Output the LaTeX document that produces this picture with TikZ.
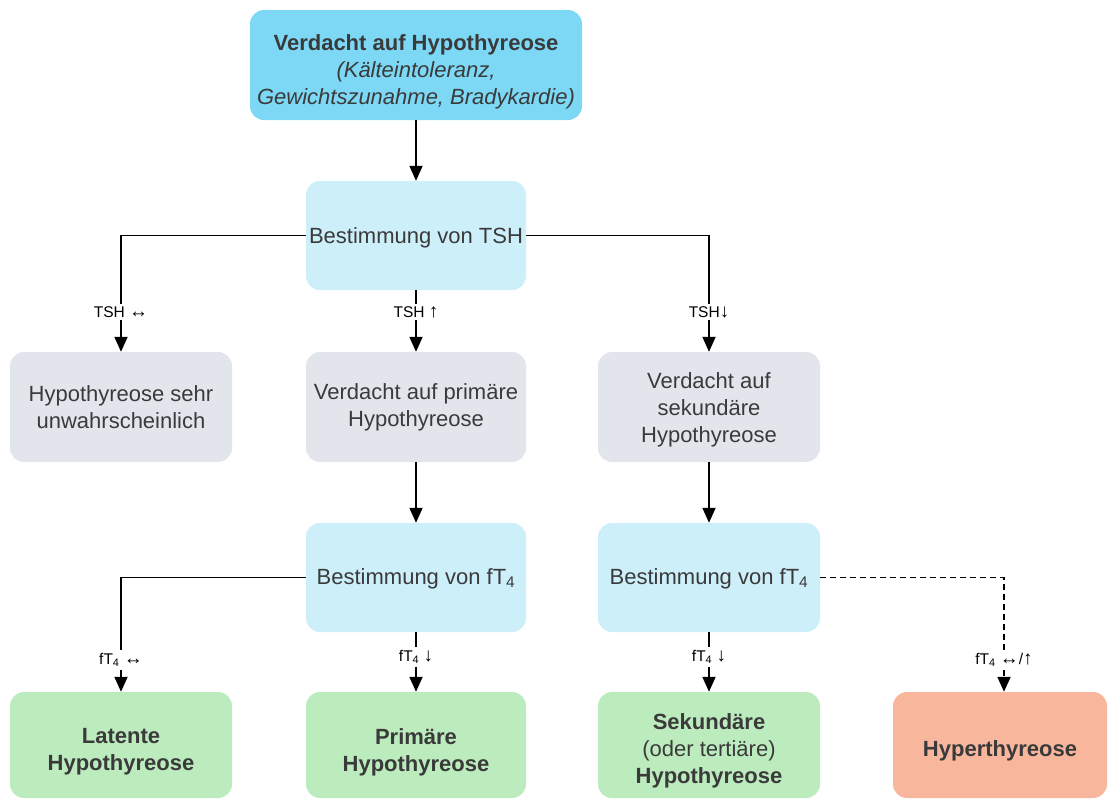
\documentclass[tikz,border=0pt]{standalone}
\usepackage{fontspec}
\setmainfont{Liberation Sans}
\usetikzlibrary{arrows.meta}
\definecolor{topblue}{HTML}{7DD8F5}
\definecolor{ltblue}{HTML}{CDEFFA}
\definecolor{grey}{HTML}{E2E6EC}
\definecolor{green}{HTML}{BCEBBE}
\definecolor{orange}{HTML}{F8B79C}
\definecolor{txt}{HTML}{3A3A3A}
\newcommand{\arw}[1]{{\fontsize{19}{19}\selectfont #1}}
\begin{document}
\begin{tikzpicture}[x=1pt,y=-1pt,
  box/.style={rounded corners=14pt, inner sep=0pt},
  bw/.style={minimum width=#1},
  bh/.style={minimum height=#1},
  tx/.style={align=center, text=txt, inner sep=0pt,
    font=\fontsize{22}{27}\selectfont},
  bx/.style={tx, font=\fontsize{22}{27}\selectfont\bfseries},
  lab/.style={font=\fontsize{15.5}{17}\selectfont, inner sep=2.5pt, text=black},
  con/.style={line width=1.8pt, draw=black},
  arr/.style={con, -{Triangle[length=15pt,width=13pt]}},
  dsh/.style={dash pattern=on 6pt off 4pt}
]
\useasboundingbox (0,0) rectangle (1108,798);

% top
\node[box, fill=topblue, bw=332pt, bh=110pt] (top) at (416,65) {};
\node[tx] (topt) at ([yshift=-7pt]top.center)
  {\textbf{Verdacht auf Hypothyreose}\\ \textit{(Kälteintoleranz,}\\ \textit{Gewichtszunahme, Bradykardie)}};
\node[box, fill=ltblue, bw=220pt, bh=109pt] (tsh) at (416,235.5) {};
\node[tx] (tsht) at ([yshift=-2pt]tsh.center) {Bestimmung von TSH};

% row 2
\node[box, fill=grey, bw=222pt, bh=110pt] (un) at (121,407) {};
\node[tx] (unt) at (un.center) {Hypothyreose sehr\\ unwahrscheinlich};
\node[box, fill=grey, bw=220pt, bh=110pt] (vp) at (416,407) {};
\node[tx] (vpt) at (vp.center) {Verdacht auf primäre\\ Hypothyreose};
\node[box, fill=grey, bw=222pt, bh=110pt] (vs) at (709,407) {};
\node[tx] (vst) at ([yshift=-3pt]vs.center) {Verdacht auf\\ sekundäre\\ Hypothyreose};

% row 3
\node[box, fill=ltblue, bw=220pt, bh=109pt] (fm) at (416,577.5) {};
\node[tx] (fmt) at ([yshift=-1pt]fm.center) {Bestimmung von fT\textsubscript{4}};
\node[box, fill=ltblue, bw=222pt, bh=109pt] (fr) at (709,577.5) {};
\node[tx] (frt) at ([yshift=-1pt]fr.center) {Bestimmung von fT\textsubscript{4}};

% row 4
\node[box, fill=green, bw=222pt, bh=106pt] (lat) at (121,745) {};
\node[bx] (latt) at ([yshift=-7pt]lat.center) {Latente\\ Hypothyreose};
\node[box, fill=green, bw=220pt, bh=106pt] (pri) at (416,745) {};
\node[bx] (prit) at ([yshift=-7pt]pri.center) {Primäre\\ Hypothyreose};
\node[box, fill=green, bw=222pt, bh=106pt] (sek) at (709,745) {};
\node[tx] (sekt) at ([yshift=-6pt]sek.center) {\textbf{Sekundäre}\\ (oder tertiäre)\\ \textbf{Hypothyreose}};
\node[box, fill=orange, bw=214pt, bh=106pt] (hyp) at (1000,745) {};
\node[bx] (hypt) at ([yshift=-6pt]hyp.center) {Hyperthyreose};

% labels
\node[lab] (l1) at (121,312) {TSH \arw{↔}};
\node[lab] (l2) at (416,312) {TSH \arw{↑}};
\node[lab] (l3) at (709,312) {TSH\arw{↓}};
\node[lab] (l4) at (121,660) {fT\textsubscript{4} \arw{↔}};
\node[lab] (l5) at (416,657) {fT\textsubscript{4} \arw{↓}};
\node[lab] (l6) at (709,657) {fT\textsubscript{4} \arw{↓}};
\node[lab] (l7) at (1004,660) {fT\textsubscript{4} \arw{↔}/\arw{↑}};

% connectors
\draw[arr] (top) -- (tsh);
\draw[con] (tsh.west) -| (l1.north);
\draw[arr] (l1.south) -- (un.north);
\draw[con] (tsh.south) -- (l2.north);
\draw[arr] (l2.south) -- (vp.north);
\draw[con] (tsh.east) -| (l3.north);
\draw[arr] (l3.south) -- (vs.north);

\draw[arr] (vp) -- (fm);
\draw[arr] (vs) -- (fr);

\draw[con] (fm.west) -| (l4.north);
\draw[arr] (l4.south) -- (lat.north);
\draw[con] (fm.south) -- (l5.north);
\draw[arr] (l5.south) -- (pri.north);
\draw[con] (fr.south) -- (l6.north);
\draw[arr] (l6.south) -- (sek.north);
\draw[con, dsh] (fr.east) -| (l7.north);
\draw[arr, dsh] (l7.south) -- (hyp.north -| l7.south);
\end{tikzpicture}
\end{document}
